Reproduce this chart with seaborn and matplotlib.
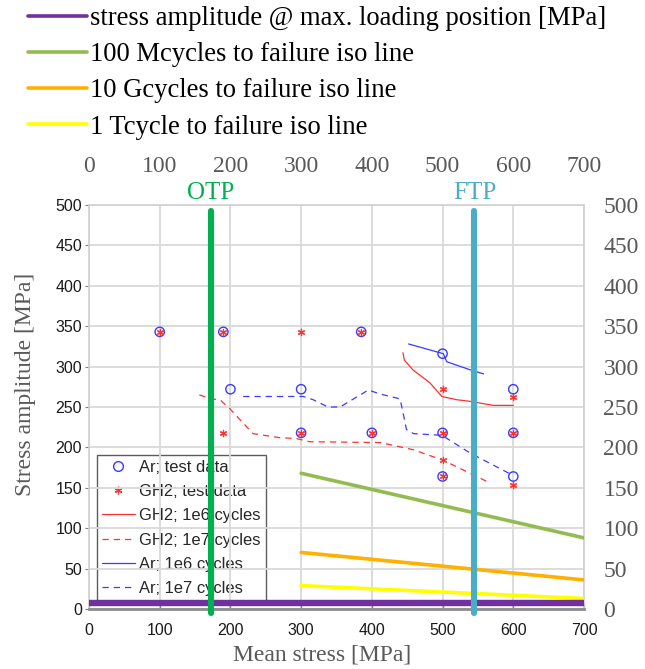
import matplotlib
matplotlib.use("Agg")
import matplotlib.pyplot as plt
from matplotlib.lines import Line2D
import seaborn as sns

# ---- test data -------------------------------------------------------------
ar_test_x = [100, 190, 385, 200, 300, 300, 400, 500, 500, 500, 600, 600, 600]
ar_test_y = [343, 343, 343, 272, 272, 218, 218, 316, 218, 164, 272, 218, 164]

gh2_test_x = [100, 190, 300, 385, 190, 300, 400, 500, 500, 500, 500, 600, 600, 600]
gh2_test_y = [343, 343, 343, 343, 218, 218, 218, 272, 218, 184, 164, 262, 218, 154]

# ---- fitted life curves ----------------------------------------------------
gh2_1e6_x = [444, 446, 458, 482, 499, 520, 539, 572, 600]
gh2_1e6_y = [317, 308, 296, 280, 263, 259, 257, 252, 252]

gh2_1e7_x = [156, 173, 185, 199, 232, 270, 293, 312, 412, 459, 501, 567]
gh2_1e7_y = [265, 260, 259, 248, 217, 212, 211, 207, 206, 197, 184, 156]

ar_1e6_x = [452, 501, 506, 539, 558]
ar_1e6_y = [328, 316, 306, 296, 291]

ar_1e7_x = [218, 303, 317, 338, 355, 395, 412, 440, 449, 459, 499, 539, 596]
ar_1e7_y = [263, 263, 259, 250, 250, 271, 266, 260, 222, 217, 215, 193, 167]

# ---- iso lines and loading ------------------------------------------------
iso_x = [300, 700]
iso_100M = [168, 88]
iso_10G = [70, 36]
iso_1T = [29, 13]

load_x = [0, 700]
load_amp = [8, 8]

otp_x = 172
ftp_x = 545
marker_span = [-5, 492]

x_ticks = [0, 100, 200, 300, 400, 500, 600, 700]
y_ticks = [0, 50, 100, 150, 200, 250, 300, 350, 400, 450, 500]

top_legend_labels = [
    "stress amplitude @ max. loading position [MPa]",
    "100 Mcycles to failure iso line",
    "10 Gcycles to failure iso line",
    "1 Tcycle to failure iso line",
]
inner_legend_labels = [
    "Ar; test data", "GH2; test data", "GH2; 1e6 cycles",
    "GH2; 1e7 cycles", "Ar; 1e6 cycles", "Ar; 1e7 cycles",
]

# ---- styling ---------------------------------------------------------------
sns.set_style("white")
plt.rcParams["font.family"] = ["Liberation Sans", "DejaVu Sans"]
SERIF = ["Liberation Serif", "DejaVu Serif"]
GRAY = "#595959"
BLUE = "#3a3aff"
RED = "#ff3030"
C_PURPLE = "#7030A0"
C_GREEN = "#92BB50"
C_ORANGE = "#FFB000"
C_YELLOW = "#FFFF00"
C_OTP = "#00B050"
C_FTP = "#4BACC6"

W, H = 645, 669
fig = plt.figure(figsize=(W / 100, H / 100), dpi=100)
L, R, T, B = 89, 584, 205, 609
ax = fig.add_axes([L / W, 1 - B / H, (R - L) / W, (B - T) / H])

# test points
sns.scatterplot(x=ar_test_x, y=ar_test_y, ax=ax, marker="o", s=45,
                facecolors="none", edgecolor=BLUE, linewidth=1.0, zorder=4)
sns.scatterplot(x=gh2_test_x, y=gh2_test_y, ax=ax, marker=(6, 2, 0), s=20,
                color=RED, edgecolor=RED, linewidth=0.9, zorder=4)

# life curves
curve_kw = dict(ax=ax, sort=False, estimator=None, linewidth=0.9, zorder=3)
sns.lineplot(x=gh2_1e6_x, y=gh2_1e6_y, color=RED, **curve_kw)
sns.lineplot(x=gh2_1e7_x, y=gh2_1e7_y, color=RED, linestyle=(0, (5, 4)), **curve_kw)
sns.lineplot(x=ar_1e6_x, y=ar_1e6_y, color=BLUE, **curve_kw)
sns.lineplot(x=ar_1e7_x, y=ar_1e7_y, color=BLUE, linestyle=(0, (5, 4)), **curve_kw)

# iso lines and loading
sns.lineplot(x=iso_x, y=iso_100M, ax=ax, color=C_GREEN, linewidth=2.6, zorder=5)
sns.lineplot(x=iso_x, y=iso_10G, ax=ax, color=C_ORANGE, linewidth=2.6, zorder=5)
sns.lineplot(x=iso_x, y=iso_1T, ax=ax, color=C_YELLOW, linewidth=2.6, zorder=5)
sns.lineplot(x=load_x, y=load_amp, ax=ax, color=C_PURPLE, linewidth=4.6, zorder=6)

# operating / failure positions
for xv, col, name in [(otp_x, C_OTP, "OTP"), (ftp_x, C_FTP, "FTP")]:
    sns.lineplot(x=[xv, xv], y=marker_span, ax=ax, color=col, linewidth=4.4,
                 sort=False, estimator=None, zorder=7).lines[-1].set_clip_on(False)
    ax.text(xv, 1.03, name, transform=ax.get_xaxis_transform(), ha="center",
            va="center", color=col, fontsize=18, family=SERIF)

ax.set_xlim(0, 700)
ax.set_ylim(0, 500)
ax.set_xticks(x_ticks)
ax.set_yticks(y_ticks)
ax.grid(True, color="#d9d9d9", linewidth=1.3)
ax.set_axisbelow(True)
for side in ["top", "right", "left"]:
    ax.spines[side].set_color("#d0d0d0")
    ax.spines[side].set_linewidth(1.2)
ax.spines["bottom"].set_color("#8c8c8c")
ax.spines["bottom"].set_linewidth(2.0)
ax.tick_params(axis="y", which="both", left=True, direction="out", length=3,
               width=0.8, color="#808080", labelsize=11.5, pad=2, labelcolor="#1a1a1a")
ax.tick_params(axis="x", which="both", bottom=True, direction="in", length=4,
               width=1.0, color="#808080", labelsize=11.5, pad=10, labelcolor="#1a1a1a")

ax.set_xlabel("Mean stress [MPa]", family=SERIF, fontsize=17, color=GRAY)
ax.set_ylabel("Stress amplitude [MPa]", family=SERIF, fontsize=17, color=GRAY)
ax.xaxis.set_label_coords((322 - L) / (R - L), -(645 - B) / (B - T))
ax.yaxis.set_label_coords(-(L - 36) / (R - L), (B - 384) / (B - T))

# secondary scales on top and right
top = ax.secondary_xaxis("top")
top.set_xticks(x_ticks)
top.tick_params(length=0, pad=20, labelsize=17, labelcolor=GRAY)
for t in top.get_xticklabels():
    t.set_family(SERIF)
top.spines["top"].set_visible(False)

right = ax.secondary_yaxis("right")
right.set_yticks(y_ticks)
right.tick_params(length=0, pad=14, labelsize=17, labelcolor=GRAY)
for t in right.get_yticklabels():
    t.set_family(SERIF)
right.spines["right"].set_visible(False)

# inner legend
inner_handles = [
    Line2D([], [], linestyle="none", marker="o", markersize=7, markerfacecolor="none",
           markeredgecolor=BLUE, markeredgewidth=1.0),
    Line2D([], [], linestyle="none", marker=(6, 2, 0), markersize=5.5,
           markeredgecolor=RED, color=RED, markeredgewidth=0.9),
    Line2D([], [], color=RED, linewidth=0.9),
    Line2D([], [], color=RED, linewidth=0.9, linestyle=(0, (5, 4))),
    Line2D([], [], color=BLUE, linewidth=0.9),
    Line2D([], [], color=BLUE, linewidth=0.9, linestyle=(0, (5, 4))),
]
leg = ax.legend(inner_handles, inner_legend_labels, loc="lower left",
                bbox_to_anchor=((97 - L) / (R - L), (B - 601) / (B - T)),
                borderaxespad=0, fontsize=11.9, frameon=True, fancybox=False,
                facecolor="none", edgecolor="#333333", handlelength=2.0,
                handletextpad=0.25, labelspacing=0.56, borderpad=0.3)
leg.get_frame().set_linewidth(1.0)
leg.set_zorder(0.4)

# figure-level legend for iso lines
top_handles = [Line2D([], [], color=c, linewidth=2.6)
               for c in [C_PURPLE, C_GREEN, C_ORANGE, C_YELLOW]]
fig.legend(top_handles, top_legend_labels, loc="upper left",
           bbox_to_anchor=(28 / W, 1 - 6 / H), frameon=False,
           prop={"family": SERIF, "size": 19.2}, handlelength=2.2,
           handletextpad=0.12, labelspacing=0.42, borderpad=0, borderaxespad=0,
           labelcolor="black")

fig.savefig("out.png", dpi=100)
